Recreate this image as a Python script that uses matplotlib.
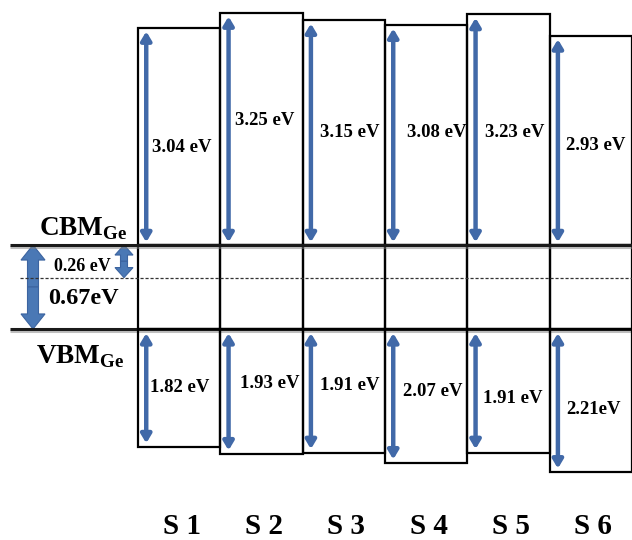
import matplotlib
matplotlib.use("Agg")
import matplotlib.pyplot as plt
import matplotlib.patheffects as pe
from matplotlib.patches import Rectangle, FancyArrow, FancyArrowPatch

plt.rcParams['font.family'] = ['Liberation Serif', 'DejaVu Serif']
plt.rcParams['font.weight'] = 'bold'
plt.rcParams['mathtext.fontset'] = 'custom'
plt.rcParams['mathtext.bf'] = 'Liberation Serif:bold'
plt.rcParams['mathtext.rm'] = 'Liberation Serif:bold'

# band offsets of each sample against Ge (eV)
samples = ['S 1', 'S 2', 'S 3', 'S 4', 'S 5', 'S 6']
cb_offset = [3.04, 3.25, 3.15, 3.08, 3.23, 2.93]
vb_offset = [1.82, 1.93, 1.91, 2.07, 1.91, 2.21]
vb_sep = [' ', ' ', ' ', ' ', ' ', '']
ge_gap = 0.67
ge_inner = 0.26

# where the value labels sit inside each box
cb_lab_dx = [0.03, 0.04, 0.07, 0.13, 0.07, 0.06]
cb_lab_y = [1.37, 1.75, 1.58, 1.57, 1.57, 1.40]
vb_lab_dx = [0.01, 0.10, 0.07, 0.08, 0.05, 0.03]
vb_lab_y = [-0.91, -0.84, -0.87, -0.97, -1.07, -1.25]

W, H = 632, 540
blue = '#4169a8'
fat_fc = '#4a78b5'
fat_ec = '#3c64a0'

fig = plt.figure(figsize=(W / 100, H / 100), dpi=100)

unit = (W - 138) / 6.0
xlim = (-0.5 - 138 / unit, 5.5)

def xpx(p):
    return xlim[0] + p / unit

cbm_px, vbm_px = 245, 329
ax_top = fig.add_axes([0, (H - cbm_px) / H, 1, cbm_px / H])
ax_mid = fig.add_axes([0, (H - vbm_px) / H, 1, (vbm_px - cbm_px) / H])
ax_bot = fig.add_axes([0, 0, 1, (H - vbm_px) / H])
ax_top.set_ylim(0, cbm_px / 71.4)
ax_mid.set_ylim(-ge_gap, 0)
ax_bot.set_ylim(-(H - vbm_px) / 64.7, 0)
for ax in (ax_top, ax_mid, ax_bot):
    ax.set_xlim(*xlim)
    ax.axis('off')
    ax.patch.set_alpha(0)

# sample boxes and their offset arrows
for i, (up, lo) in enumerate(zip(cb_offset, vb_offset)):
    ax_top.add_patch(Rectangle((i - 0.5, 0), 1, up, fill=False, ec='black', lw=1.6, clip_on=False))
    ax_mid.add_patch(Rectangle((i - 0.5, -ge_gap), 1, ge_gap, fill=False, ec='black', lw=1.6, clip_on=False))
    ax_bot.add_patch(Rectangle((i - 0.5, -lo), 1, lo, fill=False, ec='black', lw=1.6, clip_on=False))

    ax_top.add_patch(FancyArrowPatch((i - 0.4, 0), (i - 0.4, up),
                                     arrowstyle='<|-|>,head_length=0.5,head_width=0.3',
                                     mutation_scale=10, lw=3.2, color=blue,
                                     shrinkA=2, shrinkB=2.5))
    ax_bot.add_patch(FancyArrowPatch((i - 0.4, 0), (i - 0.4, -lo),
                                     arrowstyle='<|-|>,head_length=0.5,head_width=0.3',
                                     mutation_scale=10, lw=3.2, color=blue,
                                     shrinkA=3, shrinkB=2.5))

    ax_top.text(i + cb_lab_dx[i], cb_lab_y[i], f'{up:.2f} eV', ha='center', va='center',
                fontsize=13.5)
    ax_bot.text(i + vb_lab_dx[i], vb_lab_y[i], f'{lo:.2f}{vb_sep[i]}eV', ha='center', va='center',
                fontsize=13.5)
    ax_bot.text(i + 0.03, 6 / (H - vbm_px), samples[i], ha='center', va='baseline',
                fontsize=21, transform=ax_bot.get_xaxis_transform())

# Ge band edges
shadow = [pe.SimpleLineShadow(offset=(0, -1.5), shadow_color='gray', alpha=0.5), pe.Normal()]
for y in (0, -ge_gap):
    ax_mid.plot([xpx(10), xlim[1]], [y, y], color='#1a1a1a', lw=2.2, clip_on=False,
                solid_capstyle='butt', path_effects=shadow)
ax_mid.plot([xpx(20), xlim[1]], [-ge_inner, -ge_inner], color='#333333', lw=0.9,
            dashes=(2.5, 1.5))

# fat double arrows for the Ge gap
def double_arrow(ax, x, y0, y1, width, head_width, head_length):
    mid = (y0 + y1) / 2
    for end in (y0, y1):
        ax.add_patch(FancyArrow(x, mid, 0, end - mid, width=width, head_width=head_width,
                                head_length=head_length, length_includes_head=True,
                                fc=fat_fc, ec=fat_ec, lw=0.8))

double_arrow(ax_mid, xpx(33), 0, -ge_gap, 11 / unit, 24 / unit, 0.12)
double_arrow(ax_mid, xpx(124), 0, -ge_inner, 7 / unit, 18 / unit, 0.08)

ax_mid.text(xpx(82), -0.173, f'{ge_inner:.2f} eV', ha='center', va='center', fontsize=13)
ax_mid.text(xpx(83), -0.43, f'{ge_gap:.2f}eV', ha='center', va='center', fontsize=17.5)

ax_top.text(xpx(83), 10 / 71.4, r'$\mathbf{CBM}_{\mathbf{Ge}}$', ha='center', va='baseline',
            fontsize=19.5)
ax_bot.text(xpx(80), -34 / 64.7, r'$\mathbf{VBM}_{\mathbf{Ge}}$', ha='center', va='baseline',
            fontsize=19.5)

fig.savefig('out.png', dpi=100)
